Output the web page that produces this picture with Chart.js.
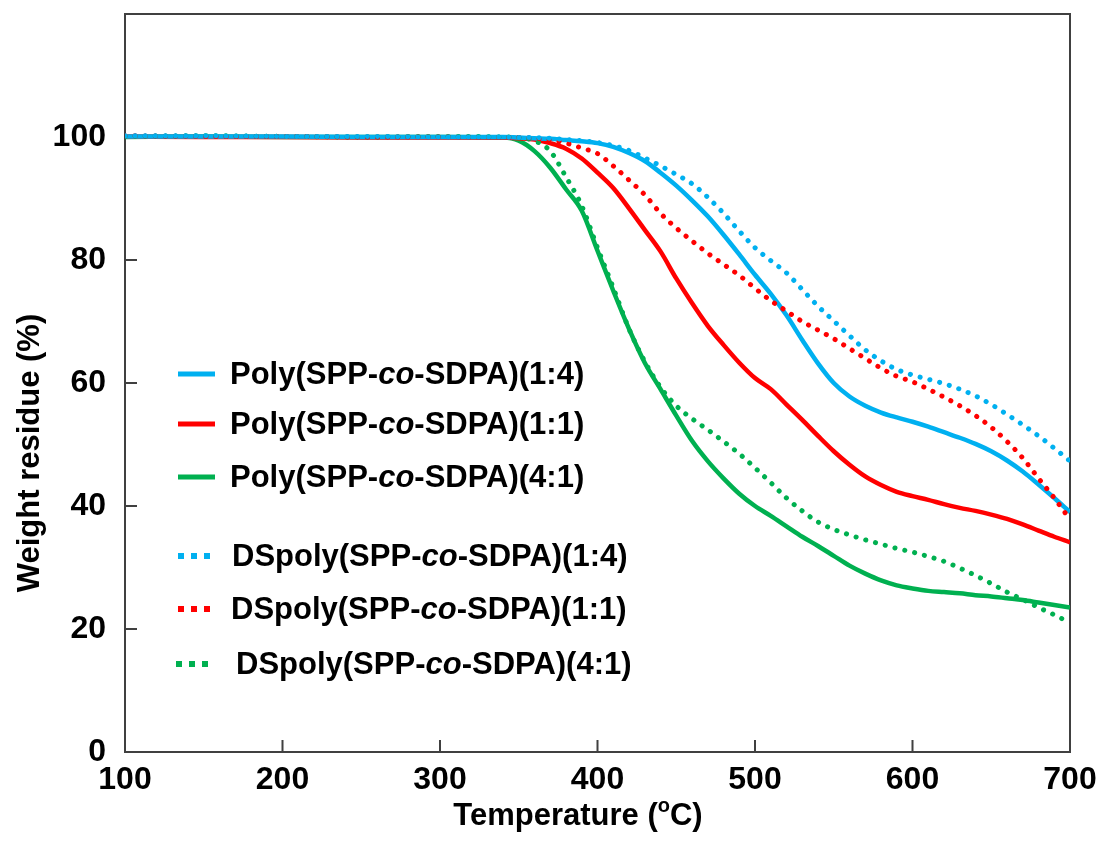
<!DOCTYPE html>
<html><head><meta charset="utf-8">
<script src="https://cdn.jsdelivr.net/npm/chart.js@4.4.0/dist/chart.umd.min.js"></script>
<style>html,body{margin:0;padding:0;background:#fff;}#wrap{width:1097px;height:861px;}</style>
</head><body><div id="wrap"><canvas id="c" width="1097" height="861"></canvas></div>
<script>
// ---- data ----
const temps = [100,150,200,250,300,340,350,360,370,380,390,400,410,420,430,440,450,460,470,480,490,500,510,520,530,540,550,560,570,580,590,600,610,620,630,640,650,660,670,680,690,700];
const poly14 = [100.1,100.1,100.1,100.0,100.0,100.0,99.9,99.8,99.7,99.5,99.3,99.0,98.4,97.4,96.1,94.2,92.1,89.7,87.1,84.1,80.9,77.6,74.5,71.0,67.0,63.2,60.0,57.8,56.3,55.2,54.4,53.7,52.9,52.0,51.1,50.1,48.9,47.4,45.6,43.5,41.3,39.0];
const poly11 = [100.1,100.0,100.0,99.9,99.9,99.9,99.8,99.6,99.0,98.1,96.5,94.2,91.7,88.4,84.9,81.4,77.0,73.0,69.3,66.2,63.3,60.8,59.0,56.5,54.0,51.4,48.9,46.7,44.8,43.4,42.3,41.6,41.0,40.3,39.7,39.2,38.6,37.9,37.0,36.0,35.0,34.1];
const poly41 = [100.0,100.1,100.0,100.0,100.0,99.9,99.4,97.7,95.0,91.5,88.0,81.5,75.0,68.8,63.3,59.0,54.7,50.6,47.3,44.5,42.0,40.0,38.4,36.7,35.0,33.5,31.9,30.3,29.0,27.9,27.1,26.6,26.2,26.0,25.8,25.5,25.3,25.0,24.7,24.3,23.9,23.5];
const ds14 = [100.2,100.2,100.1,100.1,100.0,100.0,99.9,99.9,99.8,99.6,99.4,99.1,98.6,97.8,96.6,95.3,93.9,92.4,90.2,87.6,84.7,82.0,79.9,77.9,75.2,72.5,70.1,67.7,65.4,63.6,62.2,61.3,60.6,59.9,59.0,57.9,56.5,54.9,53.2,51.4,49.4,47.3];
const ds11 = [100.2,100.1,100.1,100.0,100.0,99.9,99.9,99.8,99.5,99.0,98.2,97.3,95.3,93.0,90.6,87.6,85.2,83.1,81.1,79.3,77.5,75.4,73.4,71.7,70.0,68.6,67.2,65.6,64.0,62.4,61.1,60.2,59.0,57.7,56.3,54.7,52.8,50.5,47.8,44.5,41.3,37.8];
const ds41 = [100.1,100.2,100.1,100.0,100.1,100.0,99.9,99.4,97.7,93.5,88.8,82.0,75.5,68.8,63.5,59.3,56.3,54.2,52.4,50.5,48.5,46.2,43.8,41.3,39.2,37.4,36.2,35.3,34.5,33.8,33.1,32.5,31.8,31.0,29.9,28.7,27.4,26.0,24.8,23.5,22.3,21.0];
const xTicks = [100,200,300,400,500,600,700];
const yTicks = [0,20,40,60,80,100];
const legendNames = [
  ['Poly(SPP-','co','-SDPA)(1:4)'],
  ['Poly(SPP-','co','-SDPA)(1:1)'],
  ['Poly(SPP-','co','-SDPA)(4:1)'],
  ['DSpoly(SPP-','co','-SDPA)(1:4)'],
  ['DSpoly(SPP-','co','-SDPA)(1:1)'],
  ['DSpoly(SPP-','co','-SDPA)(4:1)']
];
const xTitle = ['Temperature (','o','C)'];
const yTitle = 'Weight residue (%)';

const BLUE='#00B0F0', RED='#FF0000', GREEN='#00B050';
const FONT='"Liberation Sans", Arial, Helvetica, sans-serif';
const toXY = arr => arr.map((v,i)=>({x:temps[i], y:v}));
const dot = {borderDash:[0.1,10], borderCapStyle:'round', borderWidth:5};
const solid = {borderWidth:4.5};

const datasets = [
  Object.assign({label:legendNames[3].join(''), data:toXY(ds14), borderColor:BLUE}, dot),
  Object.assign({label:legendNames[4].join(''), data:toXY(ds11), borderColor:RED}, dot),
  Object.assign({label:legendNames[5].join(''), data:toXY(ds41), borderColor:GREEN}, dot),
  Object.assign({label:legendNames[0].join(''), data:toXY(poly14), borderColor:BLUE}, solid),
  Object.assign({label:legendNames[1].join(''), data:toXY(poly11), borderColor:RED}, solid),
  Object.assign({label:legendNames[2].join(''), data:toXY(poly41), borderColor:GREEN}, solid)
];

function drawMixed(ctx, parts, x, y, size){
  let cx = x;
  parts.forEach((p,i)=>{
    ctx.font = (i===1?'italic ':'')+'bold '+size+'px '+FONT;
    ctx.fillText(p, cx, y);
    cx += ctx.measureText(p).width;
  });
}

const decor = {
  id:'decor',
  beforeDatasetsDraw(chart){
    const {ctx, chartArea:a, scales:{x,y}} = chart;
    ctx.save();
    ctx.strokeStyle='#404040'; ctx.lineWidth=2;
    ctx.strokeRect(a.left, a.top, a.right-a.left, a.bottom-a.top);
    ctx.beginPath();
    xTicks.slice(1,-1).forEach(v=>{const px=x.getPixelForValue(v); ctx.moveTo(px,a.bottom); ctx.lineTo(px,a.bottom-12);});
    yTicks.slice(1).forEach(v=>{const py=y.getPixelForValue(v); ctx.moveTo(a.left,py); ctx.lineTo(a.left+12,py);});
    ctx.stroke();
    ctx.restore();
  },
  afterDraw(chart){
    const ctx = chart.ctx;
    ctx.save();
    ctx.fillStyle='#000';
    ctx.textBaseline='middle';
    ctx.textAlign='left';
    // legend
    const rows = [
      {y:374, c:BLUE, d:false, tx:230, x0:178, x1:215},
      {y:424, c:RED, d:false, tx:230, x0:178, x1:215},
      {y:477, c:GREEN, d:false, tx:230, x0:178, x1:215},
      {y:556, c:BLUE, d:true, tx:232, x0:178, x1:210},
      {y:609, c:RED, d:true, tx:231, x0:178, x1:210},
      {y:664, c:GREEN, d:true, tx:236, x0:176, x1:207}
    ];
    rows.forEach((r,i)=>{
      ctx.fillStyle=r.c;
      if(!r.d){ ctx.fillRect(r.x0, r.y-2.5, r.x1-r.x0, 5); }
      else { for(let k=0;k<3;k++){ ctx.fillRect(r.x0+k*13, r.y-3, 6, 6); } }
      ctx.fillStyle='#000';
      drawMixed(ctx, legendNames[i], r.tx, r.y+1, 31);
    });
    // x title with superscript o
    ctx.font='bold 31px '+FONT;
    const w0=ctx.measureText(xTitle[0]).width;
    const w2=ctx.measureText(xTitle[2]).width;
    ctx.font='bold 20px '+FONT;
    const w1=ctx.measureText(xTitle[1]).width;
    let sx = 578 - (w0+w1+w2)/2, ty=816;
    ctx.font='bold 31px '+FONT; ctx.fillText(xTitle[0], sx, ty); sx+=w0;
    ctx.font='bold 20px '+FONT; ctx.fillText(xTitle[1], sx, ty-10); sx+=w1;
    ctx.font='bold 31px '+FONT; ctx.fillText(xTitle[2], sx, ty);
    // y title
    ctx.translate(30, 453);
    ctx.rotate(-Math.PI/2);
    ctx.textAlign='center';
    ctx.font='bold 31px '+FONT;
    ctx.fillText(yTitle, 0, 0);
    ctx.restore();
  }
};

new Chart(document.getElementById('c'), {
  type:'line',
  data:{datasets},
  options:{
    responsive:false, animation:false, devicePixelRatio:1,
    layout:{padding:{top:14, right:27, left:0, bottom:0}},
    elements:{point:{radius:0}, line:{cubicInterpolationMode:'monotone'}},
    plugins:{legend:{display:false}, tooltip:{enabled:false}},
    scales:{
      x:{type:'linear', min:100, max:700,
         afterFit(s){ s.height = 109; s.paddingLeft = 0; s.paddingRight = 0; },
         grid:{display:false, drawTicks:false}, border:{display:false},
         ticks:{stepSize:100, padding:9, color:'#000', font:{family:FONT, size:32, weight:'bold'}, maxRotation:0}},
      y:{min:0, max:120,
         afterFit(s){ s.width = 125; s.paddingTop = 0; s.paddingBottom = 0; },
         grid:{display:false, drawTicks:false}, border:{display:false},
         ticks:{stepSize:20, padding:19, color:'#000', font:{family:FONT, size:32, weight:'bold'},
                callback:v=> v>100 ? '' : v}}
    }
  },
  plugins:[decor]
});
</script>
</body></html>
